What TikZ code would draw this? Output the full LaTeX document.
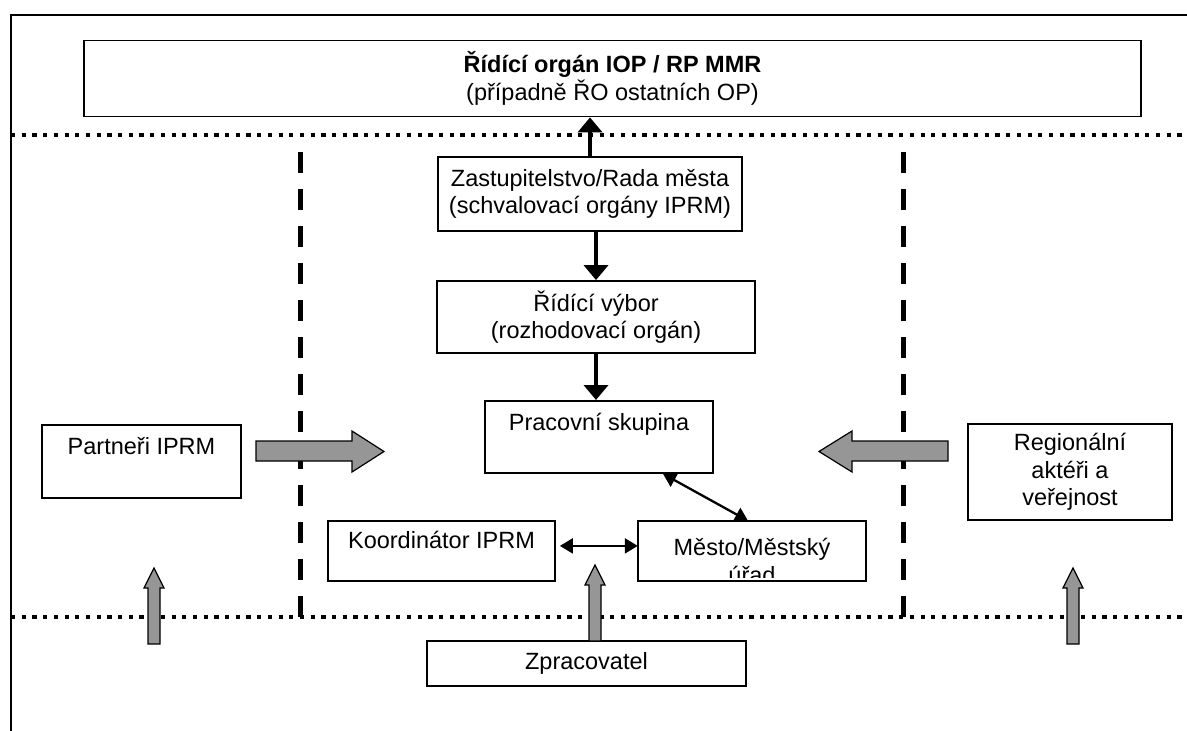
\documentclass[tikz,border=0pt]{standalone}
\usepackage{fontspec}
\setmainfont{Liberation Sans}
\usetikzlibrary{arrows.meta}
\definecolor{blockgray}{RGB}{150,150,150}

\begin{document}
\begin{tikzpicture}[x=1pt,y=-1pt,
    font=\fontsize{23.5}{27.5}\selectfont,
    box/.style={draw,fill=white,line width=1.8pt,align=center},
    topbox/.style={box,inner ysep=0pt,anchor=north},
    flow/.style={-{Triangle[length=15pt,width=24pt]},line width=4.5pt},
    link/.style={{Triangle[length=13pt,width=15pt]}-{Triangle[length=13pt,width=15pt]},line width=2.3pt},
    blockarrow/.style={draw,fill=blockgray,line width=1.2pt,line join=miter},
    dotline/.style={line width=4.2pt,dash pattern=on 4.2pt off 6.5pt},
    dashline/.style={line width=5pt,dash pattern=on 21pt off 16pt}]
    \useasboundingbox (0,0) rectangle (1187,731);
    % frame and zone borders
    \draw [line width=1.5pt] (11,731) -- (11,15) -- (1187,15);
    \draw [dotline] (11,135) -- (1187,135);
    \draw [dotline] (11,617) -- (1187,617);
    \draw [dashline] (300,152) -- (300,622);
    \draw [dashline] (903,152) -- (903,622);

    % boxes
    \node [box,minimum width=1057,minimum height=76] (ro) at (612.5,78.5)
        {\textbf{Řídící orgán IOP / RP MMR}\\(případně ŘO ostatních OP)};
    \node [box,minimum width=304,minimum height=74] (zast) at (590,194)
        {Zastupitelstvo/Rada města\\(schvalovací orgány IPRM)};
    \node [box,minimum width=318,minimum height=72] (vybor) at (596,317)
        {Řídící výbor\\(rozhodovací orgán)};
    \node [topbox,minimum width=228,text height=30pt,text depth=42pt] (prac) at (599,400)
        {Pracovní skupina};
    \node [topbox,minimum width=199,text height=30pt,text depth=43pt] (partneri) at (141.5,424)
        {Partneři IPRM};
    \node [topbox,minimum width=227,text height=28pt,text depth=32pt] (koord) at (441.5,520)
        {Koordinátor IPRM};
    \node [fill=white,minimum width=228,minimum height=60] (mesto) at (752,551) {};
    \begin{scope}
      \clip ([yshift=4pt]mesto.south west) rectangle (mesto.north east);
      \node [align=center] (mestotext) at ([yshift=-10pt]mesto.center) {Město/Městský\\úřad};
    \end{scope}
    \draw [line width=1.8pt] (mesto.south west) rectangle (mesto.north east);
    \node [box,minimum width=204,minimum height=96] (region) at (1070,472)
        {Regionální\\aktéři a\\veřejnost};
    \node [box,minimum width=319,minimum height=45] (zprac) at (586.5,663.5)
        {Zpracovatel};

    % black connectors
    \draw [flow] (zast.north) -- (zast.north |- ro.south);
    \draw [flow] (vybor.north |- zast.south) -- (vybor.north);
    \draw [flow] (vybor.south) -- (vybor.south |- prac.north);
    \draw [link] ([xshift=64pt]prac.south) -- ([xshift=-4pt]mesto.north);
    \draw [link,shorten <=4pt] ([yshift=5pt]koord.east) -- ([yshift=5pt]koord.east -| mesto.west);

    % gray block arrows
    \filldraw [blockarrow] (256,441) -- (352,441) -- (352,431) -- (384,451.5)
        -- (352,472) -- (352,461) -- (256,461) -- cycle;
    \filldraw [blockarrow] (948,441) -- (852,441) -- (852,431) -- (819,451.5)
        -- (852,472) -- (852,461) -- (948,461) -- cycle;
    \filldraw [blockarrow] (589,641) -- (589,585) -- (585,585) -- (595,565)
        -- (605,585) -- (601,585) -- (601,641) -- cycle;
    \filldraw [blockarrow] (148,644) -- (148,588) -- (144,588) -- (154,568)
        -- (164,588) -- (160,588) -- (160,644) -- cycle;
    \filldraw [blockarrow] (1067,644) -- (1067,588) -- (1063,588) -- (1073,568)
        -- (1083,588) -- (1079,588) -- (1079,644) -- cycle;
\end{tikzpicture}
\end{document}
